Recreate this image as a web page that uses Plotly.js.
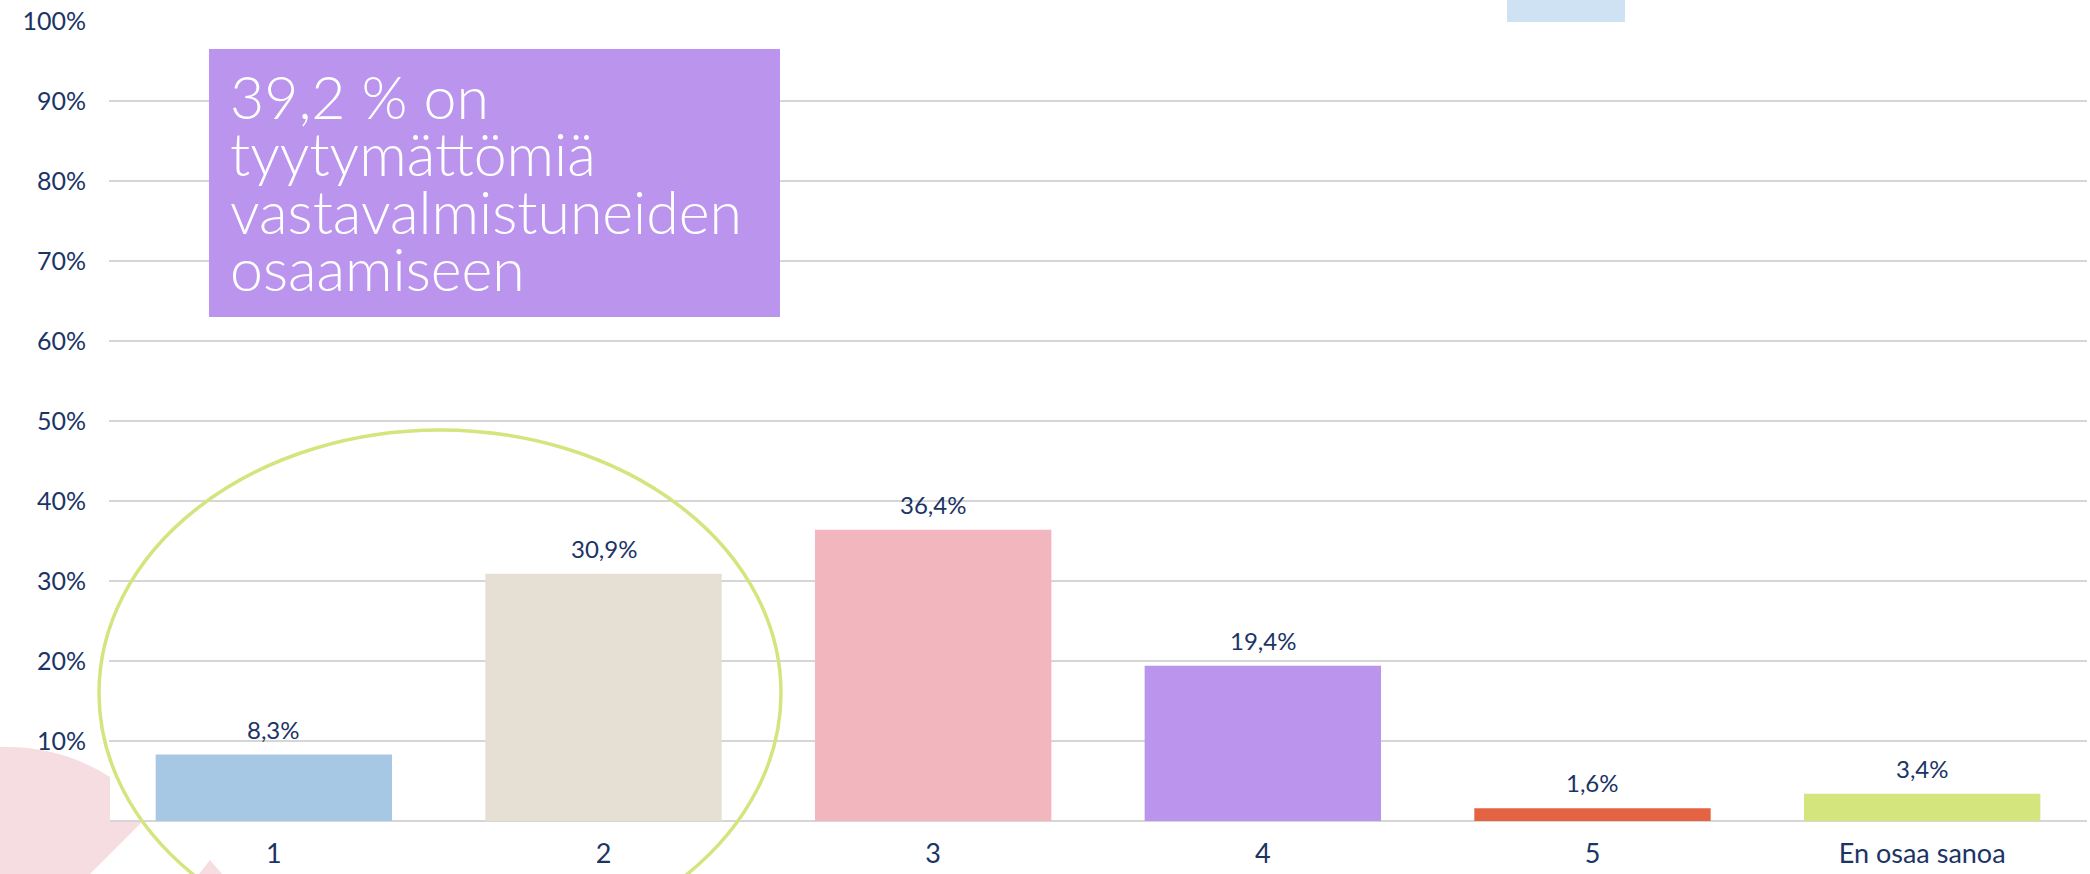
<!DOCTYPE html>
<html>
<head>
<meta charset="utf-8">
<script src="https://cdn.plot.ly/plotly-3.0.1.min.js"></script>
<style>html,body{margin:0;padding:0;background:#fff;}#chart{width:2090px;height:874px;}</style>
</head>
<body>
<div id="chart"></div>
<script>
// Data
const categories = ['1', '2', '3', '4', '5', 'En osaa sanoa'];
const values = [0.083, 0.309, 0.364, 0.194, 0.016, 0.034];
const barColors = ['#a7c8e5', '#e6e0d4', '#f2b6bf', '#bb94ee', '#e46342', '#d4e57e'];
const boxLines = ['39,2 % on', 'tyytymättömiä', 'vastavalmistuneiden', 'osaamiseen'];

const W = 2090, H = 874;
const L = 109, R = 3, T = 21, B = 53;
const pw = W - L - R, ph = H - T - B;
const px = X => (X - L) / pw;
const py = Y => (H - B - Y) / ph;

const navy = '#1b3466';
const font = 'Lato, "Open Sans", sans-serif';

const fmt = v => (v * 100).toFixed(1).replace('.', ',') + '%';

const trace = {
  type: 'bar',
  x: categories,
  y: values,
  marker: {color: barColors},
  hoverinfo: 'skip'
};

const labelAnns = categories.map((c, i) => ({
  x: i, y: values[i], xref: 'x', yref: 'y',
  text: fmt(values[i]), showarrow: false,
  yanchor: 'bottom', yshift: 9,
  font: {family: font, size: 24, color: navy}
}));

const lineBaselines = [115, 172, 230, 287];
const fs = 59;
const boxAnns = boxLines.map((t, i) => ({
  x: px(228), y: py(lineBaselines[i] - 0.31 * fs),
  xref: 'paper', yref: 'paper', xanchor: 'left', yanchor: 'middle',
  text: t, showarrow: false, align: 'left',
  font: {family: font, size: fs, color: '#ffffff', weight: 300}
}));

const shapes = [
  // pale pink decoration bottom-left
  {type: 'path', xref: 'paper', yref: 'paper', layer: 'above',
   path: `M ${px(0)},${py(747)} Q ${px(60)},${py(745)} ${px(110)},${py(777)} L ${px(110)},${py(822)} L ${px(142)},${py(822)} L ${px(90)},${py(874)} L ${px(0)},${py(874)} Z`,
   fillcolor: '#f6dde2', line: {width: 0}},
  {type: 'path', xref: 'paper', yref: 'paper', layer: 'above',
   path: `M ${px(199)},${py(874)} L ${px(210)},${py(860)} L ${px(222)},${py(874)} Z`,
   fillcolor: '#f6dde2', line: {width: 0}},
  // light blue fragment at top
  {type: 'rect', xref: 'paper', yref: 'paper', layer: 'below',
   x0: px(1507), x1: px(1625), y0: py(22), y1: py(0),
   fillcolor: '#cfe2f3', line: {width: 0}},
  // purple callout box
  {type: 'rect', xref: 'paper', yref: 'paper', layer: 'above',
   x0: px(209), x1: px(780), y0: py(317), y1: py(49),
   fillcolor: '#bb94ee', line: {width: 0}},
  // green ellipse
  {type: 'circle', xref: 'paper', yref: 'paper', layer: 'above',
   x0: px(99), x1: px(781), y0: py(956), y1: py(430),
   fillcolor: 'rgba(0,0,0,0)', line: {color: '#d4e57e', width: 3.5}}
];

const layout = {
  width: W, height: H,
  margin: {l: L, r: R, t: T, b: B, pad: 0},
  paper_bgcolor: '#ffffff', plot_bgcolor: 'rgba(0,0,0,0)',
  showlegend: false,
  bargap: 0.283,
  xaxis: {
    type: 'category', showgrid: false, zeroline: false, showline: false, ticks: '',
    tickfont: {family: font, size: 27, color: navy},
    ticklabelstandoff: 14,
    fixedrange: true
  },
  yaxis: {
    range: [0, 1], dtick: 0.1, tick0: 0, tickformat: '.0%',
    showgrid: true, gridcolor: '#d6d6d6', gridwidth: 2.8,
    zeroline: true, zerolinecolor: '#d6d6d6', zerolinewidth: 2.8,
    showline: false, ticks: '',
    tickfont: {family: font, size: 25, color: navy},
    ticklabelstandoff: 22,
    fixedrange: true
  },
  shapes: shapes,
  annotations: labelAnns.concat(boxAnns)
};

Plotly.newPlot('chart', [trace], layout, {displayModeBar: false, staticPlot: true});
</script>
</body>
</html>
